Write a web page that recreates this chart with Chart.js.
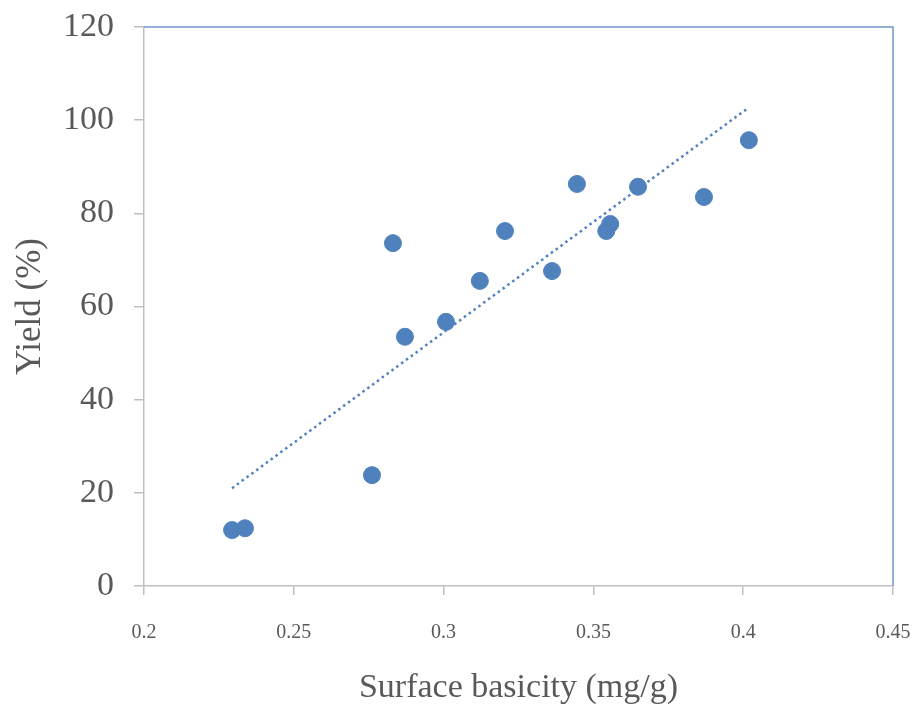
<!DOCTYPE html>
<html>
<head>
<meta charset="utf-8">
<script src="https://cdn.jsdelivr.net/npm/chart.js@4.4.1/dist/chart.umd.min.js"></script>
<style>
  html, body { margin: 0; padding: 0; background: #fff; }
  #wrap { width: 916px; height: 706px; position: relative; }
</style>
</head>
<body>
<div id="wrap"><canvas id="chart"></canvas></div>
<script>
// surface basicity (mg/g) vs yield (%)
const basicity = [0.2294, 0.2337, 0.2761, 0.2831, 0.2871, 0.3008, 0.3121, 0.3205, 0.3362, 0.3445, 0.3543, 0.3556, 0.3649, 0.3869, 0.4019];
const yieldPct = [12.0, 12.4, 23.8, 73.6, 53.5, 56.7, 65.5, 76.2, 67.6, 86.3, 76.2, 77.7, 85.7, 83.5, 95.7];

// trend line end points
const trendX = [0.2294, 0.4016];
const trendY = [21.0, 102.6];

const xTicks = [0.2, 0.25, 0.3, 0.35, 0.4, 0.45];
const yTicks = [0, 20, 40, 60, 80, 100, 120];

const blue = '#4F81BD';
const axisGray = '#BFBFBF';

// top + right frame lines in blue
const frame = {
    id: 'frame',
    afterDraw(chart) {
        const { ctx, chartArea: a } = chart;
        ctx.save();
        ctx.strokeStyle = '#6F97CC';
        ctx.lineWidth = 1.5;
        ctx.beginPath();
        ctx.moveTo(a.left, a.top);
        ctx.lineTo(a.right, a.top);
        ctx.lineTo(a.right, a.bottom);
        ctx.stroke();
        ctx.restore();
    }
};

new Chart(document.getElementById('chart'), {
    type: 'scatter',
    data: {
        datasets: [{
            label: 'trend',
            type: 'line',
            data: trendX.map((x, i) => ({ x, y: trendY[i] })),
            borderColor: blue,
            borderWidth: 2.5,
            borderDash: [2.5, 3.5],
            pointRadius: 0,
            fill: false
        }, {
            label: 'Yield',
            data: basicity.map((x, i) => ({ x, y: yieldPct[i] })),
            backgroundColor: blue,
            borderColor: blue,
            pointRadius: 8.5,
            pointHoverRadius: 8.5
        }]
    },
    options: {
        responsive: true,
        maintainAspectRatio: false,
        animation: false,
        layout: { padding: { top: 27, right: 23, left: 0, bottom: 0 } },
        plugins: {
            legend: { display: false },
            tooltip: { enabled: false }
        },
        scales: {
            x: {
                type: 'linear',
                min: 0.2,
                max: 0.45,
                afterBuildTicks: (s) => { s.ticks = xTicks.map(v => ({ value: v })); },
                afterFit: (s) => { s.height = 120; s.paddingRight = 0; s.paddingLeft = 0; },
                border: { color: axisGray, width: 1.5 },
                grid: { drawOnChartArea: false, color: axisGray, tickLength: 9, lineWidth: 1.5 },
                ticks: {
                    color: '#595959',
                    padding: 26,
                    font: { family: 'Liberation Serif', size: 20 },
                    callback: (v) => String(v)
                },
                title: {
                    display: true,
                    text: 'Surface basicity (mg/g)',
                    color: '#595959',
                    font: { family: 'Liberation Serif', size: 34 },
                    padding: { top: 12, bottom: -2 }
                }
            },
            y: {
                min: 0,
                max: 120,
                afterBuildTicks: (s) => { s.ticks = yTicks.map(v => ({ value: v })); },
                afterFit: (s) => { s.width = 144; s.paddingTop = 0; s.paddingBottom = 0; },
                border: { color: axisGray, width: 1.5 },
                grid: { drawOnChartArea: false, color: axisGray, tickLength: 10, lineWidth: 1.5 },
                ticks: {
                    color: '#595959',
                    padding: 20,
                    font: { family: 'Liberation Serif', size: 34 }
                },
                title: {
                    display: true,
                    text: 'Yield (%)',
                    color: '#595959',
                    font: { family: 'Liberation Serif', size: 35 },
                    padding: { top: 10, bottom: 10 }
                }
            }
        }
    },
    plugins: [frame]
});
</script>
</body>
</html>
